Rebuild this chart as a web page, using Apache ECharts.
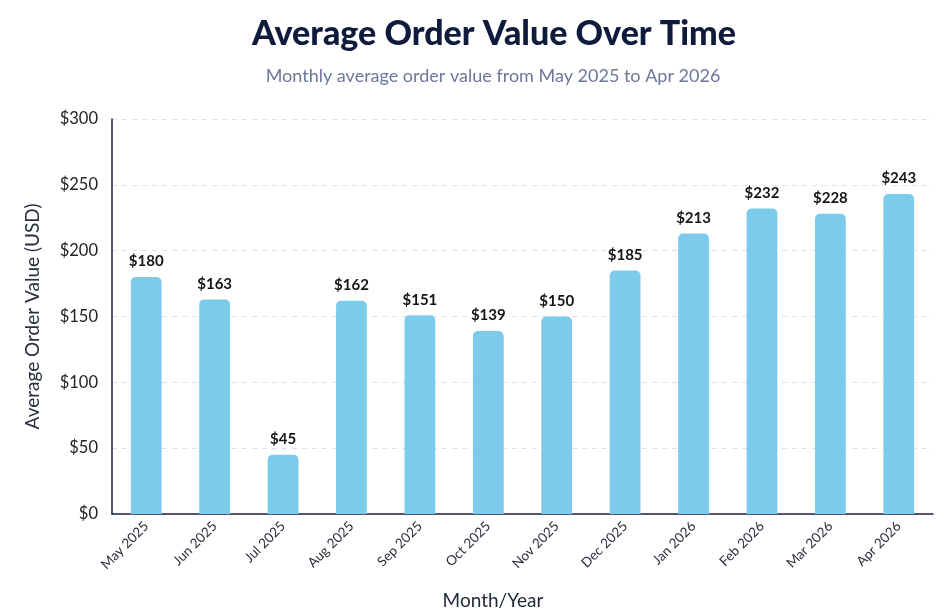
<!DOCTYPE html>
<html><head><meta charset="utf-8">
<script src="https://cdn.jsdelivr.net/npm/echarts@6/dist/echarts.min.js"></script>
<style>html,body{margin:0;padding:0;background:#fff}#c{width:951px;height:612px}</style>
</head><body><div id="c"></div>
<script>
const categories = ["May 2025","Jun 2025","Jul 2025","Aug 2025","Sep 2025","Oct 2025","Nov 2025","Dec 2025","Jan 2026","Feb 2026","Mar 2026","Apr 2026"];
const values = [180,163,45,162,151,139,150,185,213,232,228,243];
const yTicks = [0,50,100,150,200,250,300];

const chart = echarts.init(document.getElementById('c'));
chart.setOption({
  backgroundColor:'#ffffff',
  animation:false,
  title:[
    {text:'Average Order Value Over Time', left:489, top:12, textAlign:'center',
     textStyle:{fontFamily:'Lato', fontWeight:'900', fontSize:34, color:'#0f1b3d'}},
    {text:'Monthly average order value from May 2025 to Apr 2026', left:488, top:62, textAlign:'center',
     textStyle:{fontFamily:'Lato', fontWeight:'normal', fontSize:18, color:'#6b7899'}},
    {text:'Month/Year', left:488, top:586, textAlign:'center',
     textStyle:{fontFamily:'Lato', fontWeight:'normal', fontSize:19, color:'#222a3a'}}
  ],
  grid:{left:112, right:18, top:119, bottom:98, containLabel:false},
  xAxis:{
    type:'category', data:categories,
    axisLine:{lineStyle:{color:'#1b2247', width:1.5}},
    axisTick:{show:false},
    axisLabel:{rotate:45, fontFamily:'Lato', fontSize:13.5, color:'#2a2f3a', margin:10, interval:0}
  },
  yAxis:{
    type:'value', min:yTicks[0], max:yTicks[yTicks.length-1], interval:50,
    name:'Average Order Value (USD)', nameLocation:'middle', nameGap:70, nameRotate:90,
    nameTextStyle:{fontFamily:'Lato', fontSize:19, color:'#2a3040'},
    axisLine:{show:true, lineStyle:{color:'#1b2247', width:1.5}},
    axisTick:{show:false},
    axisLabel:{fontFamily:'Lato', fontSize:16.5, color:'#222', margin:14, formatter:v=>'$'+v},
    splitLine:{lineStyle:{type:[5,5], color:'#dde0ea'}}
  },
  series:[{
    type:'bar', data:values, barWidth:'45%',
    itemStyle:{color:'#7ccbea', borderRadius:[5,5,0,0]},
    label:{show:true, position:'top', distance:8, formatter:p=>'$'+p.value,
      fontFamily:'Lato', fontWeight:'bold', fontSize:15, color:'#151515'}
  }]
});
</script></body></html>
